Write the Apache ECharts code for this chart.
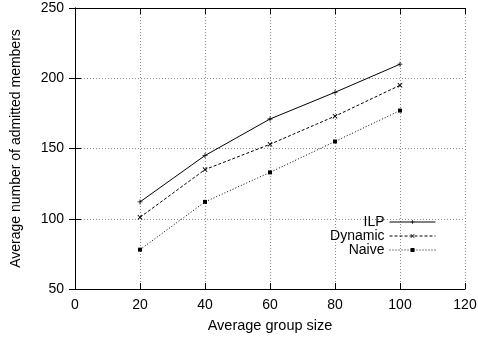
<!DOCTYPE html>
<html>
<head>
<meta charset="utf-8">
<script src="https://cdn.jsdelivr.net/npm/echarts@6/dist/echarts.min.js"></script>
<style>
  html, body { margin: 0; padding: 0; background: #fff; }
  #chart { width: 478px; height: 341px; }
</style>
</head>
<body>
<div id="chart"></div>
<script>
// Average number of admitted members by average group size
const groupSizes = [20, 40, 60, 80, 100];
const ilp = [112, 145, 171, 190, 210];
const dynamicVals = [101, 135, 153, 173, 195];
const naive = [78, 112, 133, 155, 177];
const seriesNames = ['ILP', 'Dynamic', 'Naive'];

const FONT = '"Liberation Sans", Arial, Helvetica, sans-serif';

// marker shapes
const plusPath = 'path://M-1,-0.16 L-0.16,-0.16 L-0.16,-1 L0.16,-1 L0.16,-0.16 L1,-0.16 L1,0.16 L0.16,0.16 L0.16,1 L-0.16,1 L-0.16,0.16 L-1,0.16 Z';
const crossPath = 'path://M-1,-0.75 L-0.75,-1 L0,-0.25 L0.75,-1 L1,-0.75 L0.25,0 L1,0.75 L0.75,1 L0,0.25 L-0.75,1 L-1,0.75 L-0.25,0 Z';

function pairs(vals) {
  return groupSizes.map((g, i) => [g, vals[i]]);
}

const chart = echarts.init(document.getElementById('chart'), null, { renderer: 'canvas' });

const gridLine = { show: true, lineStyle: { color: '#8a8a8a', type: [1, 2], width: 1 } };
const axisLineStyle = { show: true, lineStyle: { color: '#000', width: 1 } };
const tickIn = { show: true, inside: true, length: 6, lineStyle: { color: '#000' } };

function lineSeries(name, vals, lineType, symbol, size) {
  return {
    name: name,
    type: 'line',
    data: pairs(vals),
    symbol: symbol,
    symbolSize: size,
    showSymbol: true,
    lineStyle: { color: '#000', width: 1, type: lineType },
    itemStyle: { color: '#000' },
    emphasis: { disabled: true },
    animation: false
  };
}

chart.setOption({
  backgroundColor: '#fff',
  animation: false,
  textStyle: { fontFamily: FONT },
  grid: { left: 75, right: 13, top: 8, bottom: 52, containLabel: false, outerBoundsMode: 'none' },
  legend: {
    orient: 'vertical',
    right: 37,
    top: 210,
    align: 'right',
    itemWidth: 46,
    itemHeight: 5,
    itemGap: 0,
    lineStyle: { width: 1 },
    textStyle: { fontFamily: FONT, fontSize: 14, color: '#000' },
    data: seriesNames
  },
  xAxis: [
    {
      type: 'value', min: 0, max: 120, interval: 20,
      name: 'Average group size', nameLocation: 'middle', nameGap: 29,
      nameTextStyle: { fontFamily: FONT, fontSize: 14.5, color: '#000' },
      axisLine: axisLineStyle, axisTick: tickIn,
      axisLabel: { fontFamily: FONT, fontSize: 14, color: '#000', margin: 9 },
      splitLine: gridLine
    },
    {
      type: 'value', position: 'top', min: 0, max: 120, interval: 20,
      axisLine: axisLineStyle, axisTick: tickIn,
      axisLabel: { show: false }, splitLine: { show: false }
    }
  ],
  yAxis: [
    {
      type: 'value', min: 50, max: 250, interval: 50,
      name: 'Average number of admitted members', nameLocation: 'middle', nameGap: 52,
      nameTextStyle: { fontFamily: FONT, fontSize: 14, color: '#000' },
      axisLine: axisLineStyle, axisTick: tickIn,
      axisLabel: { fontFamily: FONT, fontSize: 14, color: '#000', margin: 11 },
      splitLine: gridLine
    },
    {
      type: 'value', position: 'right', min: 50, max: 250, interval: 50,
      axisLine: axisLineStyle, axisTick: tickIn,
      axisLabel: { show: false }, splitLine: { show: false }
    }
  ],
  series: [
    lineSeries(seriesNames[0], ilp, 'solid', plusPath, 5),
    lineSeries(seriesNames[1], dynamicVals, [3, 2], crossPath, 5),
    lineSeries(seriesNames[2], naive, [1, 2], 'rect', 4)
  ]
});
</script>
</body>
</html>
